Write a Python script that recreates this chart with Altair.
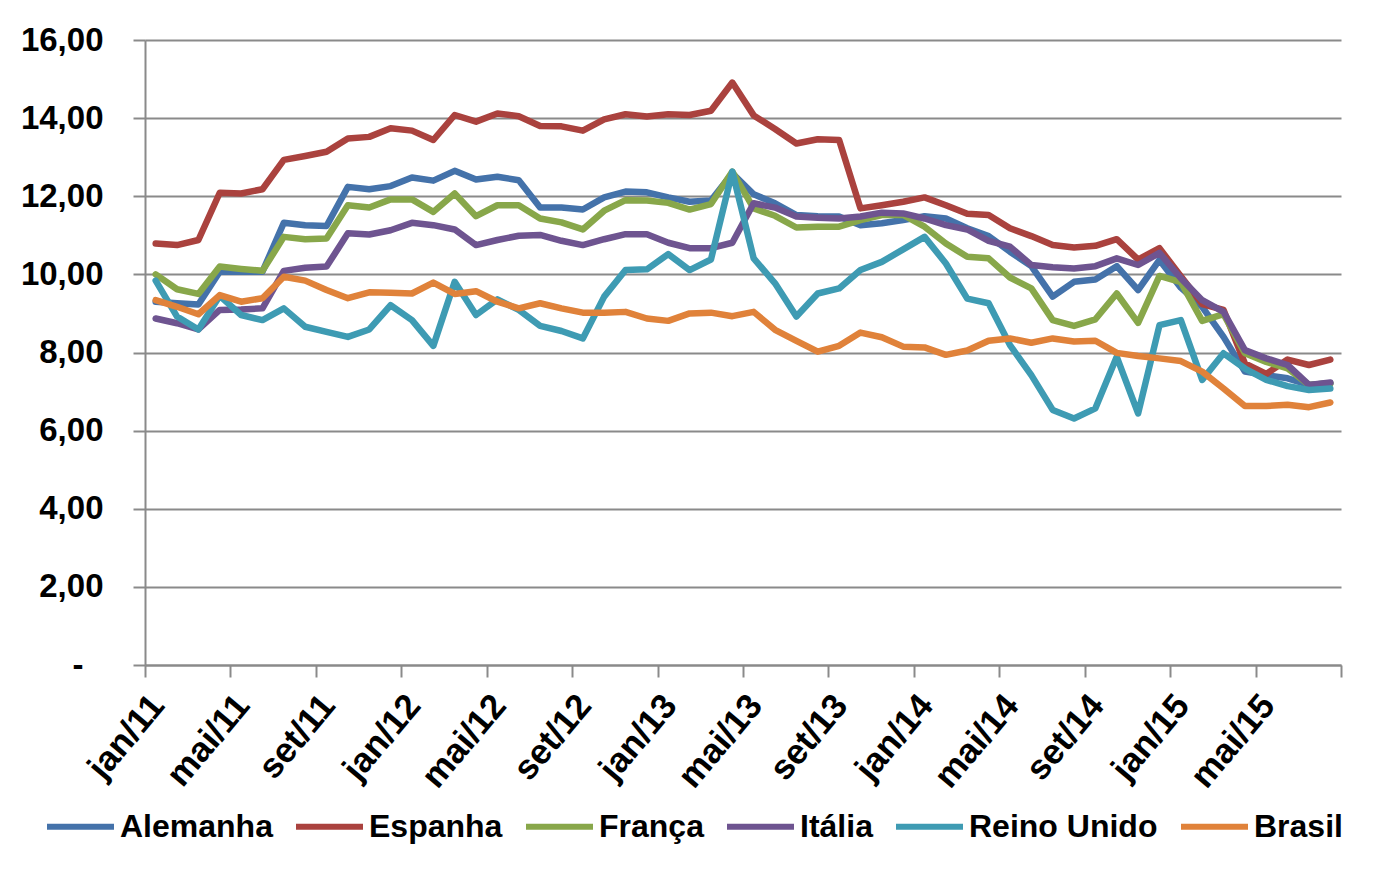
import altair as alt
import pandas as pd

# ---------------- data ----------------
month_abbr = ["jan", "fev", "mar", "abr", "mai", "jun", "jul", "ago", "set", "out", "nov", "dez"]
periodos = [f"{month_abbr[i % 12]}/{11 + i // 12}" for i in range(56)]  # jan/11 .. ago/15

tick_labels = ["jan/11", "mai/11", "set/11", "jan/12", "mai/12", "set/12", "jan/13",
               "mai/13", "set/13", "jan/14", "mai/14", "set/14", "jan/15", "mai/15"]

paises = ["Alemanha", "Espanha", "França", "Itália", "Reino Unido", "Brasil"]
cores = ["#4472AA", "#AA423E", "#88A74A", "#6E5490", "#3E9BB3", "#E0823A"]

alemanha = [9.30, 9.26, 9.23, 10.07, 10.07, 10.07, 11.32, 11.26, 11.24, 12.24,
            12.18, 12.26, 12.48, 12.40, 12.65, 12.43, 12.50, 12.41, 11.71, 11.71,
            11.66, 11.97, 12.12, 12.10, 11.97, 11.86, 11.89, 12.59, 12.05, 11.82,
            11.52, 11.49, 11.48, 11.26, 11.31, 11.39, 11.49, 11.43, 11.18, 10.98,
            10.58, 10.21, 9.43, 9.81, 9.87, 10.21, 9.60, 10.37, 9.66, 9.17,
            8.40, 7.51, 7.42, 7.34, 7.17, 7.21]
espanha = [10.79, 10.75, 10.88, 12.09, 12.07, 12.18, 12.93, 13.03, 13.14, 13.48,
           13.52, 13.74, 13.68, 13.44, 14.08, 13.91, 14.12, 14.05, 13.80, 13.79,
           13.68, 13.97, 14.10, 14.04, 14.10, 14.08, 14.19, 14.91, 14.07, 13.72,
           13.35, 13.46, 13.44, 11.69, 11.77, 11.86, 11.97, 11.77, 11.55, 11.52,
           11.18, 10.98, 10.75, 10.69, 10.73, 10.90, 10.38, 10.67, 9.95, 9.24,
           9.09, 7.72, 7.45, 7.82, 7.68, 7.82]
franca = [10.00, 9.62, 9.50, 10.20, 10.14, 10.09, 10.96, 10.90, 10.92, 11.77,
          11.71, 11.92, 11.92, 11.60, 12.07, 11.49, 11.77, 11.77, 11.43, 11.33,
          11.15, 11.63, 11.90, 11.89, 11.83, 11.66, 11.80, 12.63, 11.69, 11.50,
          11.20, 11.22, 11.22, 11.39, 11.52, 11.52, 11.22, 10.79, 10.45, 10.41,
          9.92, 9.64, 8.83, 8.68, 8.85, 9.51, 8.76, 9.96, 9.80, 8.81,
          8.98, 7.98, 7.76, 7.59, 7.17, 7.21]
italia = [8.87, 8.75, 8.59, 9.09, 9.10, 9.13, 10.09, 10.17, 10.20, 11.05,
          11.02, 11.13, 11.32, 11.26, 11.15, 10.75, 10.88, 10.99, 11.01, 10.86,
          10.75, 10.90, 11.03, 11.03, 10.81, 10.67, 10.67, 10.81, 11.82, 11.71,
          11.48, 11.45, 11.43, 11.48, 11.58, 11.56, 11.43, 11.26, 11.15, 10.86,
          10.71, 10.24, 10.18, 10.15, 10.21, 10.41, 10.24, 10.55, 9.90, 9.34,
          9.04, 8.06, 7.85, 7.68, 7.17, 7.23]
reino_unido = [9.84, 8.92, 8.59, 9.45, 8.96, 8.83, 9.13, 8.66, 8.53, 8.40,
               8.59, 9.21, 8.83, 8.17, 9.81, 8.96, 9.36, 9.09, 8.68, 8.55,
               8.36, 9.43, 10.11, 10.13, 10.52, 10.11, 10.38, 12.63, 10.41, 9.77,
               8.92, 9.51, 9.64, 10.11, 10.32, 10.64, 10.96, 10.28, 9.38, 9.26,
               8.19, 7.42, 6.53, 6.31, 6.57, 7.89, 6.44, 8.70, 8.83, 7.30,
               7.98, 7.59, 7.30, 7.14, 7.04, 7.08]
brasil = [9.34, 9.17, 8.98, 9.47, 9.30, 9.39, 9.94, 9.84, 9.60, 9.39,
          9.54, 9.53, 9.51, 9.79, 9.50, 9.57, 9.30, 9.13, 9.26, 9.13,
          9.02, 9.02, 9.04, 8.87, 8.81, 9.00, 9.02, 8.93, 9.04, 8.58,
          8.30, 8.02, 8.17, 8.51, 8.39, 8.15, 8.13, 7.94, 8.05, 8.30,
          8.36, 8.25, 8.36, 8.28, 8.30, 7.99, 7.91, 7.85, 7.78, 7.51,
          7.08, 6.63, 6.63, 6.66, 6.60, 6.72]

series = [alemanha, espanha, franca, italia, reino_unido, brasil]

rows = []
for nome, vals in zip(paises, series):
    for i, v in enumerate(vals):
        rows.append({"periodo": periodos[i], "idx": i + 0.5, "valor": v, "pais": nome})
df = pd.DataFrame(rows)

# ---------------- styling ----------------
FONT = "Liberation Sans"
FS = 32
GRAY = "#8a8a8a"

label_array = "[" + ",".join(f"'{t}'" for t in tick_labels) + "]"
x_label_expr = f"{label_array}[datum.value / 4] || ''"
y_label_expr = "datum.value == 0 ? '-' : replace(format(datum.value, '.2f'), '.', ',')"

x_axis = alt.Axis(
    values=list(range(0, 57, 4)), labelExpr=x_label_expr, title=None,
    labelAngle=-50, labelAlign="right", labelBaseline="middle",
    labelOffset=12, labelPadding=22, tickSize=12, tickWidth=2, tickColor=GRAY,
    domainColor=GRAY, domainWidth=2, grid=False,
    labelFont=FONT, labelFontSize=35, labelFontWeight="bold", labelColor="black",
    labelOverlap=False, labelFlush=False, labelBound=False,
)
y_axis = alt.Axis(
    values=list(range(0, 17, 2)), labelExpr=y_label_expr, title=None,
    tickSize=12, tickWidth=2, tickColor=GRAY,
    labelPadding={"condition": {"test": "datum.value == 0", "value": 50}, "value": 30},
    domainColor=GRAY, domainWidth=2, grid=True, gridColor=GRAY, gridWidth=2,
    labelFont=FONT, labelFontSize=33, labelFontWeight="bold", labelColor="black",
    labelOverlap=False, labelFlush=False,
)
legend = alt.Legend(
    orient="none", legendX=-101, legendY=750, direction="horizontal", columns=6,
    title=None, symbolType="stroke", symbolSize=4489, symbolStrokeWidth=6,
    labelFont=FONT, labelFontSize=FS, labelFontWeight="bold", labelColor="black",
    labelOffset=3, columnPadding=11, padding=0, labelLimit=400,
)
color_scale = alt.Scale(domain=paises, range=cores)

layers = []
for nome in paises:
    layers.append(
        alt.Chart(df)
        .transform_filter(alt.datum.pais == nome)
        .mark_line(strokeWidth=6.5, strokeCap="round", strokeJoin="round")
        .encode(
            x=alt.X("idx:Q", scale=alt.Scale(domain=[0, 56], nice=False, zero=False), axis=x_axis),
            y=alt.Y("valor:Q", scale=alt.Scale(domain=[0, 16], nice=False), axis=y_axis),
            color=alt.Color("pais:N", scale=color_scale, legend=legend),
        )
    )

chart = (
    alt.layer(*layers)
    .properties(
        width=1196, height=625,
        autosize=alt.AutoSizeParams(type="none"),
        padding={"left": 137, "top": 32, "right": 30, "bottom": 200},
        background="white",
    )
    .configure_view(stroke=None)
)

chart.save("out.html", embed_options={"renderer": "svg", "actions": False})
